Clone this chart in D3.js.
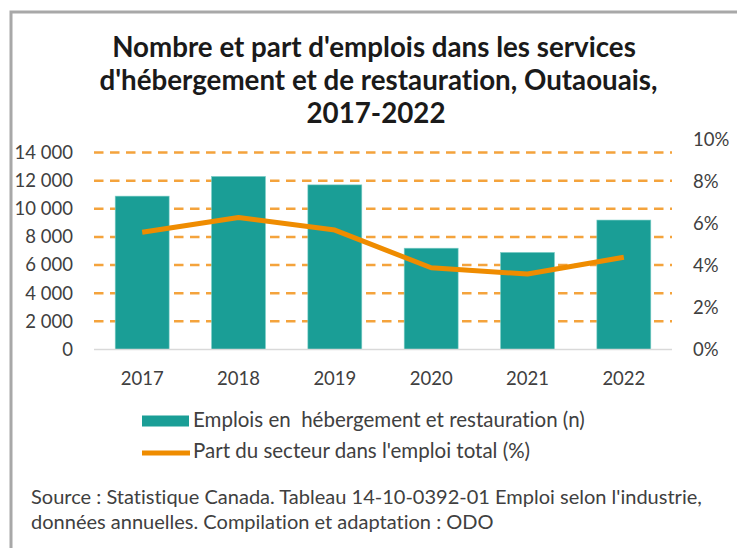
<!DOCTYPE html>
<html>
<head>
<meta charset="utf-8">
<script src="https://cdn.jsdelivr.net/npm/d3@7"></script>
<style>
  html, body { margin: 0; padding: 0; background: #fff; }
  svg { display: block; }
  text { font-family: Lato, "Open Sans", sans-serif; font-variant-ligatures: none; }
</style>
</head>
<body>
<svg id="chart" width="737" height="548"></svg>
<script>
// ---- Data ----
const years = ["2017", "2018", "2019", "2020", "2021", "2022"];
const emplois = [10900, 12300, 11700, 7200, 6900, 9200];
const partPct = [5.6, 6.3, 5.7, 3.9, 3.6, 4.4];
const leftTicks = [0, 2000, 4000, 6000, 8000, 10000, 12000, 14000];
const rightTicks = [0, 2, 4, 6, 8, 10];
const titleLines = [
  "Nombre et part d'emplois dans les services",
  "d'hébergement et de restauration, Outaouais,",
  "2017-2022"
];
const legendLabels = [
  "Emplois en  hébergement et restauration (n)",
  "Part du secteur dans l'emploi total (%)"
];
const sourceLines = [
  "Source : Statistique Canada. Tableau 14-10-0392-01 Emploi selon l'industrie,",
  "données annuelles. Compilation et adaptation : ODO"
];

const svg = d3.select("#chart");
const teal = "#1a9e96";
const orange = "#ef8c00";
const gridOrange = "#f4a33c";
const textCol = "#404040";

// frame (top and left edges visible)
svg.append("rect")
  .attr("x", 11).attr("y", 12)
  .attr("width", 760).attr("height", 560)
  .attr("fill", "none").attr("stroke", "#a8a8a8").attr("stroke-width", 3);

// helper: fit font size so text width = target
function fitSize(sel, target) {
  const node = sel.node();
  const base = parseFloat(sel.attr("font-size"));
  const w = node.getComputedTextLength();
  return base * target / w;
}

// ---- Scales ----
const x = d3.scaleBand().domain(years).range([94, 672]).paddingInner(0.44).paddingOuter(0.22);
const yL = d3.scaleLinear().domain([0, 14000]).range([349.5, 152.5]);
const yR = d3.scaleLinear().domain([0, 10]).range([349.5, 140]);

const fr = d3.formatLocale({decimal: ",", thousands: "\u00a0", grouping: [3], currency: ["", " $"]});
const fmtL = fr.format(",.0f");

// ---- Gridlines ----
svg.append("g").selectAll("line")
  .data(leftTicks.filter(d => d > 0))
  .join("line")
  .attr("x1", 94).attr("x2", 672)
  .attr("y1", d => yL(d)).attr("y2", d => yL(d))
  .attr("stroke", gridOrange).attr("stroke-width", 2.5)
  .attr("stroke-dasharray", "9.5,6.5");

// ---- Bars ----
svg.append("g").selectAll("rect")
  .data(years)
  .join("rect")
  .attr("x", d => x(d))
  .attr("width", x.bandwidth())
  .attr("y", (d, i) => yL(emplois[i]))
  .attr("height", (d, i) => yL(0) - yL(emplois[i]))
  .attr("fill", teal)
  .attr("stroke", "#7fcfc8").attr("stroke-width", 0.6);

// baseline
svg.append("line")
  .attr("x1", 94).attr("x2", 672)
  .attr("y1", yL(0)).attr("y2", yL(0))
  .attr("stroke", "#d9d9d9").attr("stroke-width", 1.5);

// ---- Line ----
const line = d3.line()
  .x((d, i) => x(years[i]) + x.bandwidth() / 2)
  .y(d => yR(d));
svg.append("path")
  .datum(partPct)
  .attr("d", line)
  .attr("fill", "none")
  .attr("stroke", orange).attr("stroke-width", 5)
  .attr("stroke-linejoin", "round");

// ---- Axes ----
const tickFont = 18.5;
const axL = d3.axisLeft(yL).tickValues(leftTicks).tickFormat(fmtL).tickSize(0).tickPadding(0);
const gL = svg.append("g").attr("transform", "translate(73,0)").call(axL);
gL.select(".domain").remove();
gL.selectAll("text").attr("font-size", tickFont).attr("fill", textCol)
  .attr("font-family", "Lato, sans-serif");

const axR = d3.axisRight(yR).tickValues(rightTicks).tickFormat(d => d + "%").tickSize(0).tickPadding(0);
const gR = svg.append("g").attr("transform", "translate(693,0)").call(axR);
gR.select(".domain").remove();
gR.selectAll("text").attr("font-size", tickFont).attr("fill", textCol)
  .attr("font-family", "Lato, sans-serif");

const axB = d3.axisBottom(x).tickSize(0).tickPadding(0);
const gB = svg.append("g").attr("transform", "translate(0,372)").call(axB);
gB.select(".domain").remove();
gB.selectAll("text").attr("font-size", tickFont).attr("fill", textCol)
  .attr("font-family", "Lato, sans-serif");

// ---- Title ----
const titleBaselines = [57, 90, 123];
const titleCenters = [374, 378.5, 376];
const tg = svg.append("g");
const tl = tg.selectAll("text").data(titleLines).join("text")
  .attr("x", (d, i) => titleCenters[i])
  .attr("y", (d, i) => titleBaselines[i])
  .attr("text-anchor", "middle")
  .attr("font-weight", "bold")
  .attr("font-size", 24)
  .attr("fill", "#1a1a1a")
  .text(d => d);
const ts = fitSize(tl.filter((d, i) => i === 0), 524);
tl.attr("font-size", ts);

// ---- Legend ----
const lg = svg.append("g");
lg.append("rect")
  .attr("x", 142).attr("y", 415.5).attr("width", 47).attr("height", 11)
  .attr("fill", teal);
lg.append("line")
  .attr("x1", 142).attr("x2", 190).attr("y1", 453).attr("y2", 453)
  .attr("stroke", orange).attr("stroke-width", 5);
const lt = lg.selectAll("text.leg").data(legendLabels).join("text")
  .attr("class", "leg")
  .attr("x", 193)
  .attr("y", (d, i) => [427, 458][i])
  .attr("font-size", 17)
  .attr("fill", textCol)
  .style("white-space", "pre")
  .text(d => d);
const ls = fitSize(lt.filter((d, i) => i === 0), 392);
lt.attr("font-size", ls);

// ---- Source ----
const st = svg.append("g").selectAll("text").data(sourceLines).join("text")
  .attr("x", 31)
  .attr("y", (d, i) => [504, 529][i])
  .attr("font-size", 17)
  .attr("fill", textCol)
  .text(d => d);
const ss = fitSize(st.filter((d, i) => i === 0), 671);
st.attr("font-size", ss);
</script>
</body>
</html>
